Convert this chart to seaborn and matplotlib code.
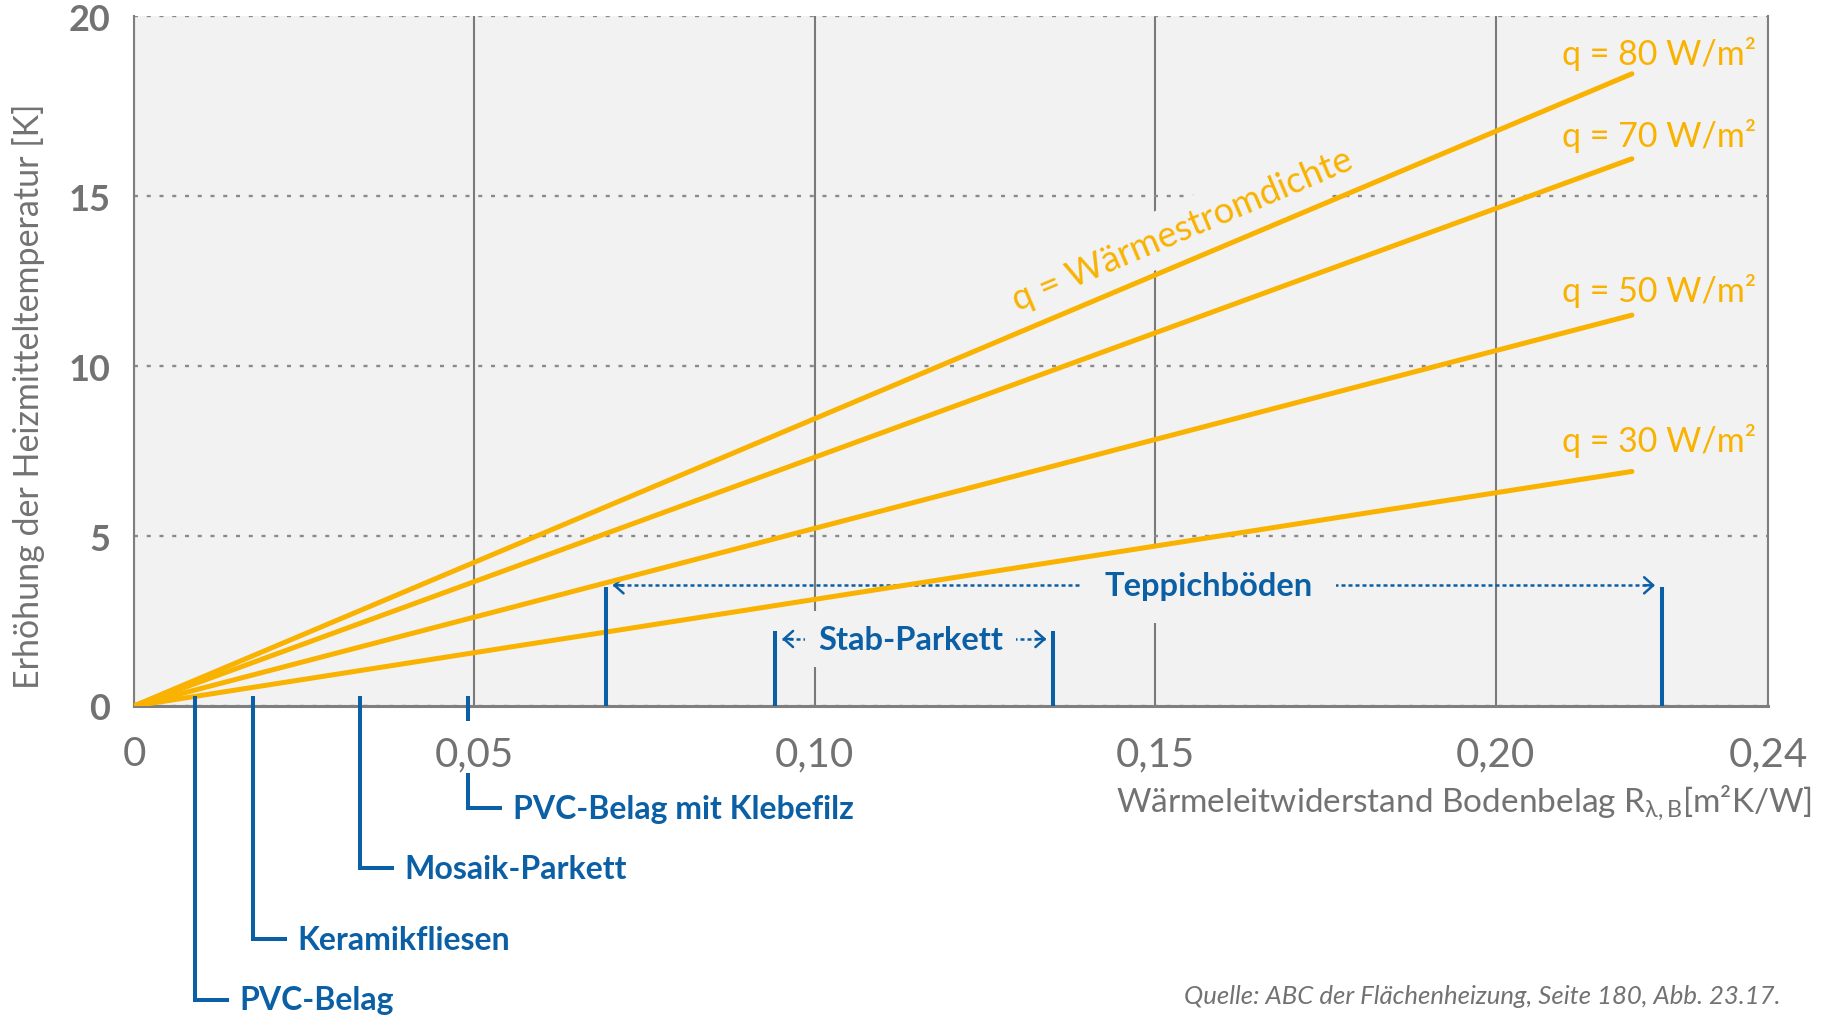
import numpy as np
import pandas as pd
import seaborn as sns
import matplotlib.pyplot as plt

# q-Linien (Wärmestromdichte), Endwerte bei R = 0,22
q_values = [80, 70, 50, 30]
r_end = 0.22
dt_end = [18.6, 16.1, 11.5, 6.9]
q_label_y = [18.88, 16.47, 11.91, 7.5]
q_label_x = 0.2097

x_ticks = [0, 0.05, 0.10, 0.15, 0.20, 0.24]
x_ticklabels = ['0', '0,05', '0,10', '0,15', '0,20', '0,24']
y_ticks = [0, 5, 10, 15, 20.3]
y_ticklabels = ['0', '5', '10', '15', '20']

# Bodenbeläge mit einzelnem Wert
mat_names = ['PVC-Belag', 'Keramikfliesen', 'Mosaik-Parkett', 'PVC-Belag mit Klebefilz']
mat_r = [0.009, 0.0175, 0.0332, 0.0491]
mat_label_y = [-8.65, -6.87, -4.78, -3.01]
mat_gap = [False, False, False, True]   # Lücke für die Achsenbeschriftung

# Bodenbeläge mit Bereich
range_names = ['Stab-Parkett', 'Teppichböden']
range_lo = [0.0942, 0.0693]
range_hi = [0.135, 0.2244]
range_top = [2.2, 3.5]
range_arrow_y = [1.97, 3.55]
range_text_x = [0.1141, 0.1578]
range_pad = [0.4, 0.72]

orange = '#f9b200'
blue = '#0b5fa5'
gray = '#727272'
bg = '#f2f2f2'

sns.set_style('white')
plt.rcParams['font.family'] = ['Lato', 'DejaVu Sans']
plt.rcParams['mathtext.fontset'] = 'custom'
plt.rcParams['mathtext.rm'] = 'Lato'
plt.rcParams['mathtext.it'] = 'Lato:italic'

fig, ax = plt.subplots(figsize=(18.25, 10.2), dpi=100)
fig.subplots_adjust(left=0.0734, right=0.9688, bottom=0.3069, top=0.9833)
ax.set_facecolor(bg)

rows = []
for q, dt in zip(q_values, dt_end):
    rows.append({'q': str(q), 'R': 0.0, 'dT': 0.0})
    rows.append({'q': str(q), 'R': r_end, 'dT': dt})
df = pd.DataFrame(rows)

sns.lineplot(data=df, x='R', y='dT', hue='q', palette=[orange] * 4, legend=False,
             lw=3.6, ax=ax, zorder=3, solid_capstyle='round')

for q, ly in zip(q_values, q_label_y):
    ax.text(q_label_x, ly, f'q = {q} W/m²', color=orange, fontsize=24.5,
            ha='left', va='baseline', zorder=4)

ax.text(0.154, 14.03, 'q = Wärmestromdichte', color=orange, fontsize=26,
        rotation=23, rotation_mode='anchor', ha='center', va='center', zorder=2.5,
        bbox=dict(boxstyle='square,pad=0.3', fc=bg, ec='none'))

# einzelne Beläge
for name, r, ly, gap in zip(mat_names, mat_r, mat_label_y, mat_gap):
    if gap:
        ax.plot([r, r], [0.3, -0.44], color=blue, lw=2.9, clip_on=False,
                solid_capstyle='butt', zorder=4)
        ax.plot([r, r, r + 0.005], [-1.97, ly, ly], color=blue, lw=2.9, clip_on=False,
                solid_capstyle='butt', solid_joinstyle='miter', zorder=4)
    else:
        ax.plot([r, r, r + 0.005], [0.3, ly, ly], color=blue, lw=2.9, clip_on=False,
                solid_capstyle='butt', solid_joinstyle='miter', zorder=4)
    ax.text(r + 0.0065, ly, name, color=blue, fontsize=23, weight='bold',
            ha='left', va='center')

# Bereiche
for name, lo, hi, top, ay, tx, pad in zip(range_names, range_lo, range_hi, range_top,
                                          range_arrow_y, range_text_x, range_pad):
    for xv in (lo, hi):
        ax.plot([xv, xv], [0, top], color=blue, lw=2.9, solid_capstyle='butt', zorder=4)
    ax.plot([lo + 0.001, hi - 0.001], [ay, ay], color=blue, lw=1.8,
            ls=(0, (1.6, 1.2)), zorder=2)
    for tip, tail in ((lo + 0.001, lo + 0.0025), (hi - 0.001, hi - 0.0025)):
        ax.annotate('', xy=(tip, ay), xytext=(tail, ay),
                    arrowprops=dict(arrowstyle='->,head_length=0.65,head_width=0.58',
                                    color=blue, lw=1.8, shrinkA=0, shrinkB=0),
                    zorder=2)
    ax.text(tx, ay, name, color=blue, fontsize=23.5, weight='bold', ha='center',
            va='center', zorder=2.5,
            bbox=dict(boxstyle=f'square,pad={pad}', fc=bg, ec='none'))

ax.set_xlim(0, 0.24)
ax.set_ylim(0, 20.3)
ax.set_xticks(x_ticks)
ax.set_xticklabels(x_ticklabels, fontsize=29, color=gray)
ax.set_yticks(y_ticks)
ax.set_yticklabels(y_ticklabels, fontsize=26, color=gray, weight='bold')
ax.tick_params(axis='x', length=0, pad=21)
ax.tick_params(axis='y', length=0, pad=17)

ax.grid(axis='x', color='#7a7a7a', lw=1.5, ls='-')
ax.grid(axis='y', color='#8a8a8a', lw=1.7, ls=(0, (1.7, 3.7)))

ax.spines['top'].set_visible(False)
for s in ('left', 'right'):
    ax.spines[s].set_color('#7f7f7f')
    ax.spines[s].set_linewidth(1.5)
ax.spines['bottom'].set_color('#7f7f7f')
ax.spines['bottom'].set_linewidth(2.2)

ax.set_xlabel(r'Wärmeleitwiderstand Bodenbelag R$_{\mathrm{\lambda,B}}$[m²K/W]',
              fontsize=24, color=gray, ha='right', va='center')
ax.xaxis.set_label_coords(1.027, -0.139)
ax.set_ylabel('Erhöhung der Heizmitteltemperatur [K]', fontsize=24.5, color=gray,
              va='center')
ax.yaxis.set_label_coords(-0.0643, 0.4507)

fig.text(1781 / 1825, 1 - 997 / 1020,
         'Quelle: ABC der Flächenheizung, Seite 180, Abb. 23.17.',
         ha='right', va='center', fontsize=18.5, style='italic', color=gray)

fig.savefig('out.png', dpi=100)
